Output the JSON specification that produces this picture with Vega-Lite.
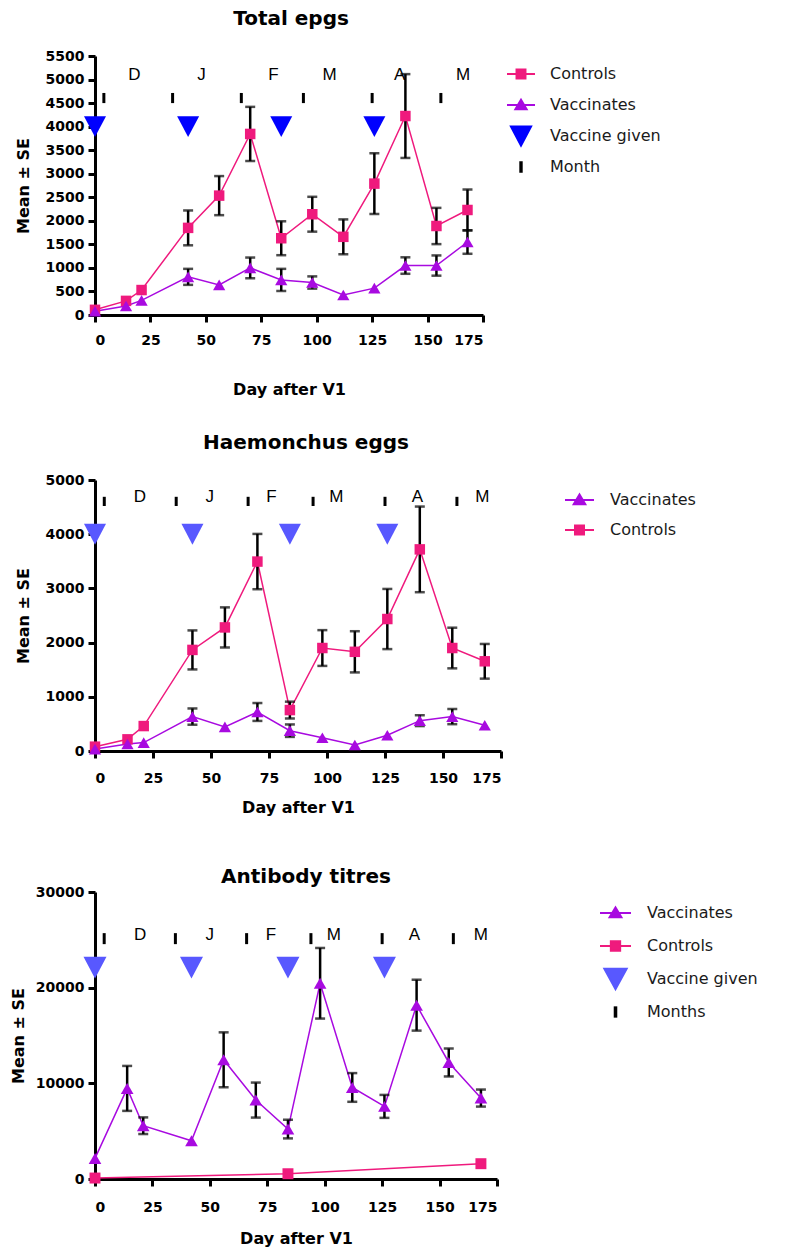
{
  "$schema": "https://vega.github.io/schema/vega-lite/v6.json",
  "padding": {"left": 10, "top": 9, "right": 5, "bottom": 2},
  "background": "white",
  "datasets": {
    "epgs": [
      {"series": "Controls", "day": 0, "mean": 110, "se": null},
      {"series": "Controls", "day": 14, "mean": 300, "se": null},
      {"series": "Controls", "day": 21, "mean": 530, "se": null},
      {"series": "Controls", "day": 42, "mean": 1850, "se": 370},
      {"series": "Controls", "day": 56, "mean": 2535, "se": 415},
      {"series": "Controls", "day": 70, "mean": 3845, "se": 575},
      {"series": "Controls", "day": 84, "mean": 1630, "se": 360},
      {"series": "Controls", "day": 98, "mean": 2140, "se": 370},
      {"series": "Controls", "day": 112, "mean": 1660, "se": 370},
      {"series": "Controls", "day": 126, "mean": 2790, "se": 645},
      {"series": "Controls", "day": 140, "mean": 4225, "se": 890},
      {"series": "Controls", "day": 154, "mean": 1890, "se": 385},
      {"series": "Controls", "day": 168, "mean": 2230, "se": 435},
      {"series": "Vaccinates", "day": 0, "mean": 80, "se": null},
      {"series": "Vaccinates", "day": 14, "mean": 190, "se": null},
      {"series": "Vaccinates", "day": 21, "mean": 310, "se": null},
      {"series": "Vaccinates", "day": 42, "mean": 810, "se": 170},
      {"series": "Vaccinates", "day": 56, "mean": 640, "se": null},
      {"series": "Vaccinates", "day": 70, "mean": 1000, "se": 220},
      {"series": "Vaccinates", "day": 84, "mean": 745, "se": 235},
      {"series": "Vaccinates", "day": 98, "mean": 690, "se": 130},
      {"series": "Vaccinates", "day": 112, "mean": 425, "se": null},
      {"series": "Vaccinates", "day": 126, "mean": 570, "se": null},
      {"series": "Vaccinates", "day": 140, "mean": 1050, "se": 175},
      {"series": "Vaccinates", "day": 154, "mean": 1050, "se": 215},
      {"series": "Vaccinates", "day": 168, "mean": 1550, "se": 250}
    ],
    "haem": [
      {"series": "Controls", "day": 0, "mean": 80, "se": null},
      {"series": "Controls", "day": 14, "mean": 215, "se": null},
      {"series": "Controls", "day": 21, "mean": 460, "se": null},
      {"series": "Controls", "day": 42, "mean": 1865, "se": 360},
      {"series": "Controls", "day": 56, "mean": 2280, "se": 370},
      {"series": "Controls", "day": 70, "mean": 3495, "se": 510},
      {"series": "Controls", "day": 84, "mean": 755, "se": 155},
      {"series": "Controls", "day": 98, "mean": 1900, "se": 330},
      {"series": "Controls", "day": 112, "mean": 1830, "se": 380},
      {"series": "Controls", "day": 126, "mean": 2435, "se": 555},
      {"series": "Controls", "day": 140, "mean": 3720, "se": 790},
      {"series": "Controls", "day": 154, "mean": 1900, "se": 375},
      {"series": "Controls", "day": 168, "mean": 1655, "se": 320},
      {"series": "Vaccinates", "day": 0, "mean": 35, "se": null},
      {"series": "Vaccinates", "day": 14, "mean": 130, "se": null},
      {"series": "Vaccinates", "day": 21, "mean": 155, "se": null},
      {"series": "Vaccinates", "day": 42, "mean": 635, "se": 150},
      {"series": "Vaccinates", "day": 56, "mean": 445, "se": null},
      {"series": "Vaccinates", "day": 70, "mean": 720, "se": 165},
      {"series": "Vaccinates", "day": 84, "mean": 375, "se": 115},
      {"series": "Vaccinates", "day": 98, "mean": 245, "se": null},
      {"series": "Vaccinates", "day": 112, "mean": 110, "se": null},
      {"series": "Vaccinates", "day": 126, "mean": 290, "se": null},
      {"series": "Vaccinates", "day": 140, "mean": 560, "se": 100},
      {"series": "Vaccinates", "day": 154, "mean": 635, "se": 140},
      {"series": "Vaccinates", "day": 168, "mean": 475, "se": null}
    ],
    "titre": [
      {"series": "Vaccinates", "day": 0, "mean": 2150, "se": null},
      {"series": "Vaccinates", "day": 14, "mean": 9470, "se": 2350},
      {"series": "Vaccinates", "day": 21, "mean": 5570, "se": 870},
      {"series": "Vaccinates", "day": 42, "mean": 4000, "se": null},
      {"series": "Vaccinates", "day": 56, "mean": 12460, "se": 2870},
      {"series": "Vaccinates", "day": 70, "mean": 8250, "se": 1830},
      {"series": "Vaccinates", "day": 84, "mean": 5220, "se": 975},
      {"series": "Vaccinates", "day": 98, "mean": 20460, "se": 3690},
      {"series": "Vaccinates", "day": 112, "mean": 9570, "se": 1500},
      {"series": "Vaccinates", "day": 126, "mean": 7590, "se": 1200},
      {"series": "Vaccinates", "day": 140, "mean": 18170, "se": 2660},
      {"series": "Vaccinates", "day": 154, "mean": 12180, "se": 1460},
      {"series": "Vaccinates", "day": 168, "mean": 8460, "se": 890},
      {"series": "Controls", "day": 0, "mean": 100, "se": null},
      {"series": "Controls", "day": 84, "mean": 550, "se": null},
      {"series": "Controls", "day": 168, "mean": 1600, "se": null}
    ],
    "vacc": [{"day": 0}, {"day": 42}, {"day": 84}, {"day": 126}],
    "months": [{"day": 4}, {"day": 35}, {"day": 66}, {"day": 94}, {"day": 125}, {"day": 156}],
    "letters1": [
      {"label": "D", "day": 17.8}, {"label": "J", "day": 48}, {"label": "F", "day": 80.5},
      {"label": "M", "day": 105.8}, {"label": "A", "day": 137.4}, {"label": "M", "day": 166}
    ],
    "letters2": [
      {"label": "D", "day": 19.4}, {"label": "J", "day": 49.5}, {"label": "F", "day": 76},
      {"label": "M", "day": 104}, {"label": "A", "day": 139}, {"label": "M", "day": 167}
    ],
    "letters3": [
      {"label": "D", "day": 19.6}, {"label": "J", "day": 50}, {"label": "F", "day": 76.6},
      {"label": "M", "day": 104}, {"label": "A", "day": 139}, {"label": "M", "day": 168}
    ]
  },
  "concat": [
    {
      "concat": [
        {
          "width": 388,
          "height": 259,
          "title": {"text": "Total epgs", "offset": 20, "frame": "group", "anchor": "middle", "dx": 2},
          "layer": [
            {
              "data": {"name": "epgs"},
              "mark": {"type": "line", "strokeWidth": 1.5},
              "encoding": {
                "x": {"field": "day", "type": "quantitative", "scale": {"domain": [0, 175], "nice": false},
                      "axis": {"values": [0, 25, 50, 75, 100, 125, 150, 175], "title": "Day after V1", "labelPadding": 11, "titlePadding": 34}},
                "y": {"field": "mean", "type": "quantitative", "scale": {"domain": [0, 5500], "nice": false},
                      "axis": {"values": [0, 500, 1000, 1500, 2000, 2500, 3000, 3500, 4000, 4500, 5000, 5500], "tickCount": 12, "labelOverlap": false, "labelSeparation": -30, "labelLineHeight": 14, "format": "d", "title": "Mean ± SE", "titlePadding": 14}},
                "color": {
                  "field": "series", "type": "nominal",
                  "scale": {"domain": ["Controls", "Vaccinates", "Vaccine given", "Month"], "range": ["#ef1a7d", "#a80ae0", "#0000ff", "#000000"]},
                  "legend": {
                    "orient": "none", "legendX": 411, "legendY": 3, "labelOffset": 14, "rowPadding": -3, "symbolSize": 784,
                    "encode": {"symbols": {"update": {
                      "shape": {"signal": "datum.value === 'Controls' ? 'M0,-0.786M0,0.786M-1,0H1M-0.32,-0.32H0.32V0.32H-0.32Z' : datum.value === 'Vaccinates' ? 'M0,-0.786M0,0.786M-1,0H1M-0.4,0.3L0.4,0.3L0,-0.38Z' : datum.value === 'Vaccine given' ? 'M0,-0.786M0,0.786M-0.72,-0.68L0.72,-0.68L0,0.68Z' : 'M0,-0.786M0,0.786M-0.05,-0.34H0.05V0.34H-0.05Z'"},
                      "fill": {"signal": "datum.value === 'Controls' ? '#ef1a7d' : datum.value === 'Vaccinates' ? '#a80ae0' : datum.value === 'Vaccine given' ? '#0000ff' : '#000000'"},
                      "stroke": {"signal": "datum.value === 'Controls' ? '#ef1a7d' : datum.value === 'Vaccinates' ? '#a80ae0' : datum.value === 'Vaccine given' ? '#0000ff' : '#000000'"},
                      "strokeWidth": {"value": 2},
                      "size": {"value": 784},
                      "opacity": {"value": 1}
                    }}}
                  }
                }
              }
            },
            {
              "data": {"name": "epgs"},
              "transform": [{"filter": "datum.se != null"}],
              "mark": {"type": "errorbar", "color": "black", "thickness": 2.5, "ticks": {"size": 10, "thickness": 2.5, "color": "black"}},
              "encoding": {
                "x": {"field": "day", "type": "quantitative"},
                "y": {"field": "mean", "type": "quantitative", "title": "Mean ± SE",
                      "axis": {"values": [0, 500, 1000, 1500, 2000, 2500, 3000, 3500, 4000, 4500, 5000, 5500], "tickCount": 12, "labelOverlap": false, "labelSeparation": -30, "labelLineHeight": 14, "format": "d", "title": "Mean ± SE", "titlePadding": 14}},
                "yError": {"field": "se"}
              }
            },
            {
              "data": {"name": "epgs"},
              "transform": [{"filter": "datum.series === 'Controls'"}],
              "mark": {"type": "point", "filled": true, "shape": "square", "size": 110, "opacity": 1},
              "encoding": {
                "x": {"field": "day", "type": "quantitative"},
                "y": {"field": "mean", "type": "quantitative"},
                "color": {"field": "series", "type": "nominal"}
              }
            },
            {
              "data": {"name": "epgs"},
              "transform": [{"filter": "datum.series === 'Vaccinates'"}],
              "mark": {"type": "point", "filled": true, "shape": "triangle-up", "size": 150, "opacity": 1},
              "encoding": {
                "x": {"field": "day", "type": "quantitative"},
                "y": {"field": "mean", "type": "quantitative"},
                "color": {"field": "series", "type": "nominal"}
              }
            },
            {
              "data": {"name": "vacc"},
              "mark": {"type": "point", "filled": true, "shape": "M-1,-0.95H1L0,0.95Z", "size": 484, "opacity": 1},
              "encoding": {
                "x": {"field": "day", "type": "quantitative"},
                "y": {"datum": 4000},
                "color": {"datum": "Vaccine given"}
              }
            },
            {
              "data": {"name": "months"},
              "mark": {"type": "rule", "strokeWidth": 3},
              "encoding": {
                "x": {"field": "day", "type": "quantitative"},
                "y": {"datum": 4500},
                "y2": {"datum": 4715},
                "color": {"datum": "Month"}
              }
            },
            {
              "data": {"name": "letters1"},
              "mark": {"type": "text", "font": "Liberation Sans", "fontSize": 17, "color": "black", "baseline": "middle", "align": "center"},
              "encoding": {
                "x": {"field": "day", "type": "quantitative"},
                "y": {"datum": 5100},
                "text": {"field": "label"}
              }
            }
          ]
        },
        {
          "width": 406,
          "height": 271,
          "title": {"text": "Haemonchus eggs", "offset": 20, "frame": "group", "anchor": "middle", "dx": 8},
          "layer": [
            {
              "data": {"name": "haem"},
              "mark": {"type": "line", "strokeWidth": 1.5},
              "encoding": {
                "x": {"field": "day", "type": "quantitative", "scale": {"domain": [0, 175], "nice": false},
                      "axis": {"values": [0, 25, 50, 75, 100, 125, 150, 175], "title": "Day after V1", "labelPadding": 13, "titlePadding": 14}},
                "y": {"field": "mean", "type": "quantitative", "scale": {"domain": [0, 5000], "nice": false},
                      "axis": {"values": [0, 1000, 2000, 3000, 4000, 5000], "labelOverlap": false, "format": "d", "title": "Mean ± SE", "titlePadding": 14}},
                "color": {
                  "field": "series", "type": "nominal",
                  "scale": {"domain": ["Vaccinates", "Controls"], "range": ["#a80ae0", "#ef1a7d"]},
                  "legend": {
                    "orient": "none", "legendX": 469, "legendY": 4.5, "labelOffset": 15, "rowPadding": -2, "symbolSize": 841,
                    "encode": {"symbols": {"update": {
                      "shape": {"signal": "datum.value === 'Controls' ? 'M0,-0.724M0,0.724M-1,0H1M-0.31,-0.31H0.31V0.31H-0.31Z' : 'M0,-0.724M0,0.724M-1,0H1M-0.4,0.3L0.4,0.3L0,-0.38Z'"},
                      "fill": {"signal": "datum.value === 'Controls' ? '#ef1a7d' : '#a80ae0'"},
                      "stroke": {"signal": "datum.value === 'Controls' ? '#ef1a7d' : '#a80ae0'"},
                      "strokeWidth": {"value": 2},
                      "size": {"value": 841},
                      "opacity": {"value": 1}
                    }}}
                  }
                }
              }
            },
            {
              "data": {"name": "haem"},
              "transform": [{"filter": "datum.se != null"}],
              "mark": {"type": "errorbar", "color": "black", "thickness": 2.5, "ticks": {"size": 10, "thickness": 2.5, "color": "black"}},
              "encoding": {
                "x": {"field": "day", "type": "quantitative"},
                "y": {"field": "mean", "type": "quantitative", "title": "Mean ± SE",
                      "axis": {"values": [0, 1000, 2000, 3000, 4000, 5000], "labelOverlap": false, "format": "d", "title": "Mean ± SE", "titlePadding": 14}},
                "yError": {"field": "se"}
              }
            },
            {
              "data": {"name": "haem"},
              "transform": [{"filter": "datum.series === 'Controls'"}],
              "mark": {"type": "point", "filled": true, "shape": "square", "size": 110, "opacity": 1},
              "encoding": {
                "x": {"field": "day", "type": "quantitative"},
                "y": {"field": "mean", "type": "quantitative"},
                "color": {"field": "series", "type": "nominal"}
              }
            },
            {
              "data": {"name": "haem"},
              "transform": [{"filter": "datum.series === 'Vaccinates'"}],
              "mark": {"type": "point", "filled": true, "shape": "triangle-up", "size": 150, "opacity": 1},
              "encoding": {
                "x": {"field": "day", "type": "quantitative"},
                "y": {"field": "mean", "type": "quantitative"},
                "color": {"field": "series", "type": "nominal"}
              }
            },
            {
              "data": {"name": "vacc"},
              "mark": {"type": "point", "filled": true, "shape": "M-1,-0.95H1L0,0.95Z", "size": 484, "opacity": 1, "color": "#5858ff"},
              "encoding": {
                "x": {"field": "day", "type": "quantitative"},
                "y": {"datum": 4000}
              }
            },
            {
              "data": {"name": "months"},
              "mark": {"type": "rule", "strokeWidth": 3, "color": "black"},
              "encoding": {
                "x": {"field": "day", "type": "quantitative"},
                "y": {"datum": 4520},
                "y2": {"datum": 4690}
              }
            },
            {
              "data": {"name": "letters2"},
              "mark": {"type": "text", "font": "Liberation Sans", "fontSize": 17, "color": "black", "baseline": "middle", "align": "center"},
              "encoding": {
                "x": {"field": "day", "type": "quantitative"},
                "y": {"datum": 4690},
                "text": {"field": "label"}
              }
            }
          ]
        }
      ],
      "columns": 1,
      "align": "none",
      "spacing": 36,
      "resolve": {"scale": {"color": "independent", "x": "independent", "y": "independent"}, "legend": {"color": "independent"}}
    },
    {
      "width": 402,
      "height": 287,
      "title": {"text": "Antibody titres", "offset": -2, "frame": "group", "anchor": "middle", "dx": 10},
      "layer": [
        {
          "data": {"name": "titre"},
          "mark": {"type": "line", "strokeWidth": 1.5},
          "encoding": {
            "x": {"field": "day", "type": "quantitative", "scale": {"domain": [0, 175], "nice": false},
                  "axis": {"values": [0, 25, 50, 75, 100, 125, 150, 175], "title": "Day after V1", "labelPadding": 14, "titlePadding": 16}},
            "y": {"field": "mean", "type": "quantitative", "scale": {"domain": [0, 30000], "nice": false},
                  "axis": {"values": [0, 10000, 20000, 30000], "labelOverlap": false, "format": "d", "title": "Mean ± SE", "titlePadding": 9}},
            "color": {
              "field": "series", "type": "nominal",
              "scale": {"domain": ["Vaccinates", "Controls", "Vaccine given", "Months"], "range": ["#a80ae0", "#ef1a7d", "#5858ff", "#000000"]},
              "legend": {
                "orient": "none", "legendX": 504, "legendY": 4.5, "labelOffset": 15, "rowPadding": 0, "symbolSize": 961,
                "encode": {"symbols": {"update": {
                  "shape": {"signal": "datum.value === 'Controls' ? 'M0,-0.797M0,0.797M-1,0H1M-0.3,-0.3H0.3V0.3H-0.3Z' : datum.value === 'Vaccinates' ? 'M0,-0.797M0,0.797M-1,0H1M-0.38,0.28L0.38,0.28L0,-0.36Z' : datum.value === 'Vaccine given' ? 'M0,-0.797M0,0.797M-0.72,-0.66L0.72,-0.66L0,0.66Z' : 'M0,-0.797M0,0.797M-0.05,-0.3H0.05V0.3H-0.05Z'"},
                  "fill": {"signal": "datum.value === 'Controls' ? '#ef1a7d' : datum.value === 'Vaccinates' ? '#a80ae0' : datum.value === 'Vaccine given' ? '#5858ff' : '#000000'"},
                  "stroke": {"signal": "datum.value === 'Controls' ? '#ef1a7d' : datum.value === 'Vaccinates' ? '#a80ae0' : datum.value === 'Vaccine given' ? '#5858ff' : '#000000'"},
                  "strokeWidth": {"value": 2},
                  "size": {"value": 961},
                  "opacity": {"value": 1}
                }}}
              }
            }
          }
        },
        {
          "data": {"name": "titre"},
          "transform": [{"filter": "datum.se != null"}],
          "mark": {"type": "errorbar", "color": "black", "thickness": 2.5, "ticks": {"size": 10, "thickness": 2.5, "color": "black"}},
          "encoding": {
            "x": {"field": "day", "type": "quantitative"},
            "y": {"field": "mean", "type": "quantitative", "title": "Mean ± SE",
                  "axis": {"values": [0, 10000, 20000, 30000], "labelOverlap": false, "format": "d", "title": "Mean ± SE", "titlePadding": 9}},
            "yError": {"field": "se"}
          }
        },
        {
          "data": {"name": "titre"},
          "transform": [{"filter": "datum.series === 'Controls'"}],
          "mark": {"type": "point", "filled": true, "shape": "square", "size": 120, "opacity": 1},
          "encoding": {
            "x": {"field": "day", "type": "quantitative"},
            "y": {"field": "mean", "type": "quantitative"},
            "color": {"field": "series", "type": "nominal"}
          }
        },
        {
          "data": {"name": "titre"},
          "transform": [{"filter": "datum.series === 'Vaccinates'"}],
          "mark": {"type": "point", "filled": true, "shape": "triangle-up", "size": 160, "opacity": 1},
          "encoding": {
            "x": {"field": "day", "type": "quantitative"},
            "y": {"field": "mean", "type": "quantitative"},
            "color": {"field": "series", "type": "nominal"}
          }
        },
        {
          "data": {"name": "vacc"},
          "mark": {"type": "point", "filled": true, "shape": "M-1,-0.95H1L0,0.95Z", "size": 529, "opacity": 1},
          "encoding": {
            "x": {"field": "day", "type": "quantitative"},
            "y": {"datum": 22100},
            "color": {"datum": "Vaccine given"}
          }
        },
        {
          "data": {"name": "months"},
          "mark": {"type": "rule", "strokeWidth": 3},
          "encoding": {
            "x": {"field": "day", "type": "quantitative"},
            "y": {"datum": 24550},
            "y2": {"datum": 25700},
            "color": {"datum": "Months"}
          }
        },
        {
          "data": {"name": "letters3"},
          "mark": {"type": "text", "font": "Liberation Sans", "fontSize": 17, "color": "black", "baseline": "middle", "align": "center"},
          "encoding": {
            "x": {"field": "day", "type": "quantitative"},
            "y": {"datum": 25500},
            "text": {"field": "label"}
          }
        }
      ]
    }
  ],
  "columns": 1,
  "align": "none",
  "spacing": 52,
  "resolve": {"scale": {"color": "independent", "x": "independent", "y": "independent"}, "legend": {"color": "independent"}},
  "config": {
    "view": {"stroke": null},
    "title": {"font": "DejaVu Sans", "fontWeight": "bold", "fontSize": 20, "color": "black"},
    "axis": {
      "grid": false,
      "domainColor": "black", "domainWidth": 3,
      "tickColor": "black", "tickWidth": 3, "tickSize": 7,
      "labelFont": "DejaVu Sans", "labelFontWeight": "bold", "labelFontSize": 14, "labelColor": "black", "labelPadding": 4, "labelOverlap": false,
      "titleFont": "DejaVu Sans", "titleFontWeight": "bold", "titleFontSize": 16, "titleColor": "black"
    },
    "axisY": {"labelOverlap": false},
    "legend": {"title": null, "labelFont": "DejaVu Sans", "labelFontSize": 16, "labelColor": "#1a1a1a", "padding": 0, "labelLimit": 300}
  }
}
